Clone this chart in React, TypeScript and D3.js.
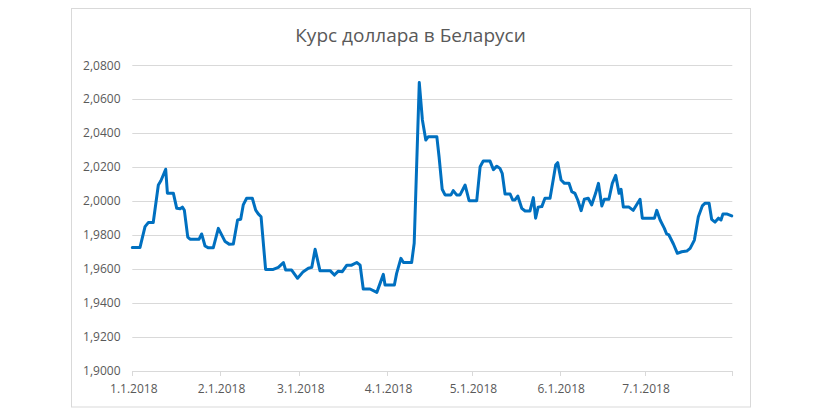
import React from "react";
import * as d3 from "d3";

// Days since 1 Jan 2018 and USD/BYN rate
const days: number[] = [
  0, 2.7, 4.5, 5.65, 7.4, 9.2, 10.1, 11.8, 12.4, 14.5,
  15.7, 16.9, 17.7, 18.4, 19.6, 20.4, 23.6, 24.5, 25.7, 26.9,
  28.6, 30.4, 32.8, 34.2, 35.7, 37.2, 38.3, 39.2, 40.4, 42.4,
  43.6, 44.5, 45.5, 47.1, 49.8, 51.6, 53.4, 54.2, 56.3, 58.4,
  60.4, 62.2, 63.4, 64.6, 66.3, 69.9, 71.4, 72.8, 74.2, 75.8,
  77.5, 79.3, 80.5, 81.6, 84, 86.4, 88.7, 89.3, 92.6, 93.4,
  94.9, 95.8, 98.7, 99.6, 101.4, 102.5, 103.7, 104.6, 107.6, 108.4,
  109.5, 110.5, 112.6, 113.4, 114.6, 115.8, 117.6, 119, 121.7, 122.9,
  124, 126.4, 127.6, 128.8, 129.9, 130.7, 131.7, 133.5, 134.4, 135.2,
  136.2, 137.6, 138.8, 140.5, 141.7, 142.5, 143.4, 144.7, 145.8, 147.6,
  148.8, 149.6, 150.3, 151.5, 152.7, 154.3, 155.3, 156.4, 157.4, 158.6,
  159.7, 161.1, 162.3, 163.7, 164.7, 165.9, 166.8, 168.4, 169.6, 170.8,
  172, 172.7, 173.5, 175.5, 177, 179.4, 180.2, 184.5, 185.3, 186.5,
  188, 188.8, 189.6, 191.2, 192.6, 194.1, 195.9, 197.1, 198.6, 200,
  201.4, 202.4, 203.8, 204.7, 205.9, 207.1, 208, 208.7, 210, 211.8,
];

const rates: number[] = [
  1.9727, 1.9727, 1.985, 1.9874, 1.9874, 2.0095, 2.012, 2.0188, 2.0047, 2.0047,
  1.9958, 1.9955, 1.9965, 1.9946, 1.9788, 1.9776, 1.9776, 1.9807, 1.9736, 1.9725,
  1.9725, 1.984, 1.9762, 1.9747, 1.9748, 1.9889, 1.9893, 1.9978, 2.0017, 2.0017,
  1.9947, 1.9925, 1.9908, 1.9598, 1.9598, 1.961, 1.9638, 1.9594, 1.9594, 1.9546,
  1.9585, 1.9605, 1.961, 1.9717, 1.9591, 1.9591, 1.9565, 1.9588, 1.9585, 1.9623,
  1.9623, 1.9639, 1.9623, 1.9483, 1.9483, 1.9463, 1.9569, 1.9506, 1.9506, 1.9575,
  1.9663, 1.9639, 1.9639, 1.9752, 2.0698, 2.0478, 2.036, 2.038, 2.038, 2.026,
  2.007, 2.0037, 2.0037, 2.0062, 2.0037, 2.0037, 2.0095, 2.0003, 2.0003, 2.0203,
  2.0236, 2.0236, 2.0186, 2.0206, 2.0193, 2.0164, 2.0042, 2.0042, 2.0007, 2.0007,
  2.003, 1.9958, 1.9942, 1.9942, 2.0021, 1.99, 1.9965, 1.9968, 2.0017, 2.0017,
  2.0134, 2.0213, 2.0227, 2.0125, 2.0105, 2.0105, 2.0056, 2.0046, 2.0007, 1.9944,
  2.0011, 2.0017, 1.9978, 2.0046, 2.0105, 1.9972, 2.0011, 2.0011, 2.0105, 2.0152,
  2.0046, 2.007, 1.9965, 1.9965, 1.9946, 2.0011, 1.99, 1.99, 1.9946, 1.9889,
  1.984, 1.9807, 1.9801, 1.9748, 1.9693, 1.9702, 1.9706, 1.9722, 1.9771, 1.9908,
  1.9972, 1.9988, 1.9988, 1.9893, 1.9877, 1.99, 1.9889, 1.9925, 1.9925, 1.9913,
];

const xTickLabels: string[] = [
  "1.1.2018", "2.1.2018", "3.1.2018", "4.1.2018", "5.1.2018", "6.1.2018", "7.1.2018",
];
const xTickMonths: number[] = [0, 1, 2, 3, 4, 5, 6, 7];
const yTicks: number[] = [1.9, 1.92, 1.94, 1.96, 1.98, 2.0, 2.02, 2.04, 2.06, 2.08];
const title = "Курс доллара в Беларуси";

const W = 820;
const H = 414;
const FONT = "'Open Sans', 'DejaVu Sans', sans-serif";

export default function App() {
  const start = Date.UTC(2018, 0, 1);
  const x = d3
    .scaleUtc()
    .domain([new Date(start), new Date(Date.UTC(2018, 7, 1))])
    .range([132.3, 732.3]);
  const y = d3.scaleLinear().domain([1.9, 2.08]).range([371, 65.3]);

  const pts: [Date, number][] = days.map((d, i) => [
    new Date(start + d * 864e5),
    rates[i],
  ]);
  const line = d3
    .line<[Date, number]>()
    .x((d) => x(d[0]))
    .y((d) => y(d[1]));

  const fmt = (v: number) => d3.format(".4f")(v).replace(".", ",");
  const [x0, x1] = x.range();

  return (
    <div style={{ position: "absolute", left: 0, top: 0 }}>
      <svg width={W} height={H} style={{ display: "block" }}>
        <rect x={0} y={0} width={W} height={H} fill="#ffffff" />
        <rect
          x={71.5}
          y={8.5}
          width={679}
          height={398.5}
          fill="#ffffff"
          stroke="#d9d9d9"
          strokeWidth={1}
        />
        <text
          x={410.5}
          y={42}
          textAnchor="middle"
          fontFamily={FONT}
          fontSize={19}
          fill="#595959"
        >
          {title}
        </text>
        {yTicks.map((t) => (
          <g key={t}>
            <line
              x1={x0}
              x2={x1}
              y1={Math.round(y(t)) + 0.5}
              y2={Math.round(y(t)) + 0.5}
              stroke="#d9d9d9"
              strokeWidth={1}
            />
            <text
              x={120.5}
              y={y(t)}
              dy="0.35em"
              textAnchor="end"
              fontFamily={FONT}
              fontSize={12}
              fill="#595959"
            >
              {fmt(t)}
            </text>
          </g>
        ))}
        {xTickMonths.map((m) => {
          const xx = Math.round(x(new Date(Date.UTC(2018, m, 1)))) + 0.5;
          return (
            <line
              key={m}
              x1={xx}
              x2={xx}
              y1={371}
              y2={376}
              stroke="#d9d9d9"
              strokeWidth={1}
            />
          );
        })}
        {xTickLabels.map((lab, i) => (
          <text
            key={lab}
            x={x(new Date(Date.UTC(2018, xTickMonths[i], 1))) + 1.5}
            y={392.5}
            textAnchor="middle"
            fontFamily={FONT}
            fontSize={12}
            fill="#595959"
          >
            {lab}
          </text>
        ))}
        <path
          d={line(pts) || ""}
          fill="none"
          stroke="#0070c0"
          strokeWidth={3}
          strokeLinejoin="round"
          strokeLinecap="round"
        />
      </svg>
    </div>
  );
}
